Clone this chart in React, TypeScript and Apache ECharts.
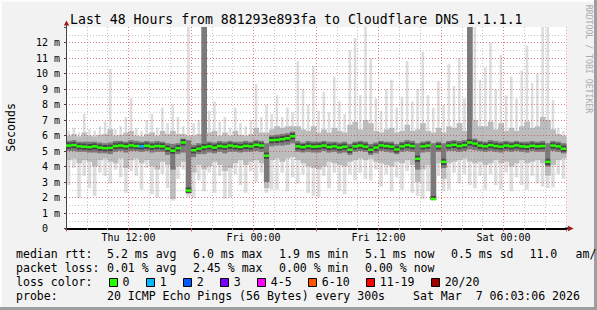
import React, { useEffect, useRef } from 'react';
import * as echarts from 'echarts';

// ---- time bins: 30-minute steps from Thu 06:00 (hours since Thu 00:00) ----
const START_HOUR = 6;
const BIN_HOURS = 0.5;

// median rtt per bin (ms)
const median = [
  5.35, 5.38, 5.30, 5.28, 5.25, 5.30, 5.22, 5.18,
  5.20, 5.32, 5.35, 5.30, 5.36, 5.32, 5.30, 5.34,
  5.28, 5.32, 5.30, 5.15, 5.02, 5.18, 5.55, 2.45,
  5.05, 5.15, 5.25, 5.30, 5.22, 5.32, 5.28, 5.35,
  5.30, 5.26, 5.33, 5.30, 5.40, 5.35, 4.70, 5.70,
  5.72, 5.76, 5.82, 5.95, 5.30, 5.25, 5.32, 5.28,
  5.30, 5.35, 5.26, 5.30, 5.22, 5.28, 5.08, 5.30,
  5.35, 5.28, 5.08, 5.22, 5.36, 5.32, 5.28, 5.10,
  5.30, 5.38, 5.32, 4.50, 5.30, 5.35, 1.90, 5.30,
  4.30, 5.35, 5.40, 5.32, 5.38, 5.55, 5.48, 5.35,
  5.30, 5.38, 5.32, 5.28, 5.35, 5.30, 5.36, 5.30,
  5.28, 5.34, 5.30, 5.32, 4.30, 5.35, 5.30, 5.15,
];

// loss class index per bin (0 = no loss, 1 = 1 lost ping ...)
const lossClass = [
  0, 0, 0, 0, 0, 0, 0, 0,
  0, 0, 0, 0, 0, 0, 1, 0,
  0, 0, 0, 0, 0, 0, 0, 0,
  0, 0, 0, 0, 0, 0, 0, 0,
  0, 0, 0, 0, 0, 0, 0, 0,
  0, 0, 0, 0, 0, 0, 0, 0,
  0, 0, 0, 0, 0, 0, 0, 0,
  0, 0, 0, 0, 0, 0, 0, 0,
  0, 0, 0, 0, 0, 0, 0, 0,
  0, 0, 0, 0, 0, 0, 0, 0,
  0, 0, 0, 0, 0, 0, 0, 0,
  0, 0, 0, 0, 0, 0, 0, 0,
];

// smoke: fastest ping
const smokeMin = [
  2.8, 3.9, 1.95, 3.4, 2.6, 2.1, 3.6, 3.4,
  2.9, 3.8, 3.3, 2.3, 3.7, 3.4, 2.5, 3.9,
  2.2, 2.0, 3.5, 2.6, 1.8, 3.2, 3.8, 2.0,
  1.95, 3.1, 2.4, 3.6, 2.3, 3.4, 1.9, 2.0,
  3.5, 2.8, 2.3, 3.7, 3.0, 3.6, 2.3, 2.5,
  2.5, 3.6, 2.4, 3.3, 2.9, 3.5, 2.3, 2.1,
  2.0, 3.4, 2.6, 3.6, 2.4, 2.2, 3.5, 3.1,
  3.6, 3.2, 3.1, 3.8, 2.7, 3.5, 2.4, 3.3,
  2.5, 3.7, 2.3, 2.1, 1.9, 2.4, 1.8, 3.4,
  2.4, 2.5, 3.6, 2.9, 3.5, 2.8, 2.6, 3.4,
  2.5, 3.5, 2.8, 2.5, 3.6, 2.4, 3.3, 2.8,
  2.5, 3.4, 2.9, 2.7, 2.6, 2.65, 3.5, 3.2,
];
// smoke: lower edge of the mid-grey band
const smokeLowMid = [
  4.4, 4.5, 4.2, 4.4, 4.3, 4.0, 4.4, 4.5,
  4.3, 4.2, 4.5, 3.9, 4.4, 4.5, 4.2, 4.4,
  4.0, 3.8, 4.3, 4.1, 1.9, 4.0, 4.3, 2.2,
  3.6, 4.1, 3.8, 4.0, 4.3, 4.1, 3.7, 3.9,
  4.2, 4.4, 4.1, 4.3, 4.4, 4.2, 2.6, 4.4,
  4.5, 4.3, 4.5, 4.6, 4.4, 4.2, 4.0, 3.9,
  3.8, 4.0, 4.3, 4.2, 4.1, 4.0, 4.3, 4.4,
  4.5, 4.4, 4.5, 4.3, 4.2, 4.1, 4.0, 4.3,
  4.2, 4.4, 4.1, 3.0, 3.8, 4.1, 1.85, 4.2,
  3.2, 4.2, 4.3, 4.4, 4.5, 4.3, 4.2, 4.3,
  4.1, 4.2, 4.4, 4.2, 4.3, 4.0, 4.2, 4.4,
  4.2, 4.3, 4.4, 4.2, 3.4, 4.1, 4.4, 4.5,
];
// smoke: lower edge of the dark core
const smokeCoreLow = [
  5.0, 5.0, 4.95, 4.95, 4.9, 4.9, 4.85, 4.85,
  4.8, 4.95, 5.0, 4.9, 5.0, 5.0, 4.95, 5.0,
  4.9, 4.95, 4.95, 4.75, 3.8, 4.8, 4.9, 2.3,
  4.6, 4.8, 4.8, 4.9, 4.85, 4.95, 4.85, 4.95,
  4.95, 4.9, 4.95, 4.95, 5.0, 4.95, 3.0, 5.3,
  5.35, 5.35, 5.4, 5.5, 4.95, 4.9, 4.95, 4.9,
  4.9, 5.0, 4.9, 4.95, 4.85, 4.9, 4.75, 4.95,
  5.0, 4.95, 4.75, 4.85, 5.0, 4.95, 4.9, 4.8,
  4.95, 5.0, 4.95, 3.8, 4.9, 4.95, 1.85, 4.95,
  3.9, 5.0, 5.0, 4.95, 5.0, 5.1, 5.05, 5.0,
  4.95, 5.0, 4.95, 4.9, 5.0, 4.95, 5.0, 4.95,
  4.9, 5.0, 4.95, 4.95, 4.0, 5.0, 4.95, 4.85,
];
// smoke: upper edge of the dark core
const smokeCoreHigh = [
  5.65, 5.7, 5.6, 5.6, 5.6, 5.6, 5.55, 5.5,
  5.55, 5.65, 5.65, 5.6, 5.7, 5.65, 5.6, 5.65,
  5.6, 5.65, 5.6, 5.5, 5.45, 5.5, 5.8, 5.7,
  5.4, 5.5, 13.0, 5.6, 5.55, 5.65, 5.6, 5.65,
  5.6, 5.6, 5.65, 5.6, 5.7, 5.65, 5.5, 6.0,
  6.05, 6.1, 6.15, 6.25, 5.65, 5.55, 5.65, 5.6,
  5.6, 5.65, 5.6, 5.6, 5.55, 5.6, 5.45, 5.6,
  5.65, 5.6, 5.45, 5.55, 5.65, 5.6, 5.6, 5.45,
  5.6, 5.7, 5.65, 5.5, 5.6, 5.65, 5.5, 5.6,
  5.5, 5.65, 5.7, 5.65, 5.7, 13.0, 5.8, 5.65,
  5.6, 5.7, 5.65, 5.6, 5.65, 5.6, 5.65, 5.6,
  5.6, 5.65, 5.6, 5.65, 5.5, 5.65, 5.6, 5.5,
];
// smoke: upper edge of the mid-grey band
const smokeHighMid = [
  6.0, 6.1, 5.95, 6.2, 6.0, 5.95, 6.05, 6.1,
  6.4, 6.0, 6.05, 6.2, 6.3, 6.0, 5.95, 6.1,
  6.2, 6.0, 6.3, 6.1, 6.3, 6.1, 6.1, 6.0,
  6.0, 6.1, 13.0, 6.2, 6.3, 6.0, 6.2, 6.0,
  6.3, 6.05, 6.0, 6.1, 6.5, 6.2, 6.2, 6.4,
  6.6, 6.5, 6.6, 6.6, 6.6, 6.4, 6.3, 6.6,
  6.2, 6.4, 6.2, 6.5, 6.3, 6.2, 6.7, 6.9,
  6.4, 7.0, 6.8, 6.3, 6.2, 6.4, 6.5, 6.2,
  6.3, 6.7, 6.3, 6.4, 6.8, 6.3, 6.2, 6.5,
  6.2, 6.6, 6.5, 6.8, 6.3, 13.0, 7.0, 6.6,
  6.6, 6.9, 6.4, 6.8, 6.3, 6.5, 6.3, 6.6,
  6.9, 6.5, 6.6, 7.2, 7.0, 6.4, 6.1, 6.0,
];
// smoke: slowest ping
const smokeMax = [
  6.3, 6.5, 6.2, 7.4, 6.4, 6.3, 6.6, 6.9,
  10.3, 6.4, 6.6, 7.2, 8.4, 6.5, 6.3, 7.0,
  7.4, 6.5, 7.8, 6.8, 8.0, 7.2, 6.6, 13.0,
  6.8, 7.0, 13.0, 7.6, 8.2, 6.9, 7.2, 6.5,
  7.8, 6.8, 6.6, 7.0, 9.3, 7.2, 8.0, 7.4,
  8.6, 7.2, 7.8, 7.5, 10.8, 9.0, 8.0, 10.5,
  7.6, 8.8, 7.5, 9.8, 8.2, 7.4, 11.5, 12.3,
  8.6, 13.0, 11.0, 8.4, 7.6, 9.0, 9.6, 7.8,
  8.5, 10.8, 8.2, 9.0, 11.4, 8.6, 7.8, 9.5,
  8.0, 10.6, 9.2, 11.0, 8.4, 13.0, 13.0, 9.6,
  10.4, 12.0, 9.0, 11.2, 8.6, 9.8, 8.4, 10.2,
  11.8, 9.4, 10.0, 13.0, 13.0, 8.3, 6.5, 6.3,
];

// axis ticks / labels
const xTickHours = [12, 24, 36, 48];
const xTickLabels = ['Thu 12:00', 'Fri 00:00', 'Fri 12:00', 'Sat 00:00'];
const yTickValues = [0, 1, 2, 3, 4, 5, 6, 7, 8, 9, 10, 11, 12];
const yTickLabels = ['0', '1 m', '2 m', '3 m', '4 m', '5 m', '6 m', '7 m', '8 m', '9 m', '10 m', '11 m', '12 m'];

// legend texts
const titleText = 'Last 48 Hours from 881293e893fa to Cloudflare DNS 1.1.1.1';
const medianStats = ['5.2 ms avg', '6.0 ms max', '1.9 ms min', '5.1 ms now', '0.5 ms sd'];
const medianExtra = ['11.0', 'am/'];
const lossStats = ['0.01 % avg', '2.45 % max', '0.00 % min', '0.00 % now'];
const lossLabels = ['0', '1', '2', '3', '4-5', '6-10', '11-19', '20/20'];
const lossColors = ['#26ff00', '#00b8ff', '#0059ff', '#7e00ff', '#ff00ff', '#ff5500', '#ff0000', '#a10000'];
const probeText = '20 ICMP Echo Pings (56 Bytes) every 300s';
const dateParts = ['Sat Mar', '7 06:03:06 2026'];

const FONT = '"DejaVu Sans Mono", monospace';
const LEG_SIZE = 11.56;
const CH = 6.96;

const LIGHT = '#dddddd';
const MID = '#bcbcbc';
const CORE = '#7a7a7a';
const INNER = '#444444';

function txt(x: number, y: number, text: string, size = LEG_SIZE, extra: any = {}) {
  return {
    type: 'text', x, y, silent: true, z: 10,
    style: { text, x: 0, y: 0, fill: '#000', fontFamily: FONT, fontSize: size, align: 'left', verticalAlign: 'middle', ...extra },
  };
}

export default function App() {
  const ref = useRef<HTMLDivElement>(null);

  useEffect(() => {
    if (!ref.current) return;
    const chart = echarts.init(ref.current, null, { renderer: 'svg', width: 597, height: 310 });

    const smokeData = median.map((m, i) => [
      START_HOUR + i * BIN_HOURS,
      smokeMin[i], smokeLowMid[i], smokeCoreLow[i], smokeCoreHigh[i], smokeHighMid[i], smokeMax[i], m,
    ]);
    const medianData = median.map((m, i) => [START_HOUR + i * BIN_HOURS, m, lossClass[i]]);

    const renderSmoke = (_p: any, api: any) => {
      const t0 = api.value(0);
      const t1 = t0 + BIN_HOURS;
      // rect between values a (low) and b (high); frac = share of the bin width, centred
      const band = (a: number, b: number, fill: string, frac = 1) => {
        const p0 = api.coord([t0, b]);
        const p1 = api.coord([t1, a]);
        const w = p1[0] - p0[0];
        const ww = frac >= 1 ? w + 0.4 : w * frac;
        return {
          type: 'rect',
          shape: { x: p0[0] + (w - Math.min(ww, w)) / 2, y: p0[1], width: ww, height: Math.max(0, p1[1] - p0[1]) },
          style: { fill },
        };
      };
      const m = api.value(7);
      const innerLo = Math.max(api.value(3), m - 0.2);
      const innerHi = Math.min(api.value(4), m + 0.2);
      return {
        type: 'group',
        children: [
          band(api.value(5), api.value(6), LIGHT, 0.5),
          band(api.value(1), api.value(2), LIGHT, 0.7),
          band(api.value(2), api.value(5), MID),
          band(api.value(3), api.value(4), CORE),
          band(innerLo, innerHi, INNER),
        ],
      };
    };

    const renderMedian = (_p: any, api: any) => {
      const t0 = api.value(0);
      const p0 = api.coord([t0, api.value(1)]);
      const p1 = api.coord([t0 + BIN_HOURS, api.value(1)]);
      return {
        type: 'rect',
        shape: { x: p0[0], y: p0[1] - 1.25, width: p1[0] - p0[0] + 0.3, height: 2.5 },
        style: { fill: lossColors[api.value(2)] },
      };
    };

    const minorGrid = { color: 'rgba(130,130,130,0.45)', type: [1, 2], width: 1 };
    const majorGrid = { color: 'rgba(255,0,0,0.33)', type: [1, 2], width: 1 };

    // legend graphics
    const g: any[] = [];
    g.push({ type: 'rect', shape: { x: 0, y: 0, width: 597, height: 2 }, style: { fill: '#fcfcfc' }, z: 1 });
    g.push({ type: 'rect', shape: { x: 0, y: 0, width: 2, height: 310 }, style: { fill: '#fcfcfc' }, z: 1 });
    g.push({ type: 'rect', shape: { x: 594, y: 0, width: 3, height: 310 }, style: { fill: '#9e9e9e' }, z: 1 });
    g.push({ type: 'rect', shape: { x: 0, y: 307, width: 597, height: 3 }, style: { fill: '#9e9e9e' }, z: 1 });

    g.push(txt(70, 19.5, titleText, 13.2));
    g.push({
      type: 'text', x: 10.5, y: 127.5, rotation: Math.PI / 2, silent: true, z: 10,
      style: { text: 'Seconds', x: 0, y: 0, fill: '#000', fontFamily: FONT, fontSize: LEG_SIZE, align: 'center', verticalAlign: 'middle' },
    });
    g.push({
      type: 'text', x: 588.5, y: 59, rotation: -Math.PI / 2, silent: true, z: 10,
      style: { text: 'RRDTOOL / TOBI OETIKER', x: 0, y: 0, fill: '#ababab', fontFamily: FONT, fontSize: 8.2, align: 'center', verticalAlign: 'middle' },
    });
    // axis arrows
    g.push({ type: 'line', shape: { x1: 66.5, y1: 24, x2: 66.5, y2: 27 }, style: { stroke: '#444', lineWidth: 1 }, z: 10 });
    g.push({ type: 'polygon', shape: { points: [[63.8, 25.6], [69.2, 25.6], [66.5, 20.4]] }, style: { fill: '#a01c1c' }, z: 10 });
    g.push({ type: 'line', shape: { x1: 565, y1: 228.5, x2: 569, y2: 228.5 }, style: { stroke: '#000', lineWidth: 2 }, z: 10 });
    g.push({ type: 'polygon', shape: { points: [[568, 225.8], [568, 231.2], [573.6, 228.5]] }, style: { fill: '#a01c1c' }, z: 10 });

    const lineY = [254.3, 268.3, 282.3, 296.3];
    const colX = [107, 193, 279, 365, 451];
    g.push(txt(16, lineY[0], 'median rtt:'));
    medianStats.forEach((s, i) => g.push(txt(colX[i], lineY[0], s)));
    g.push(txt(529.5, lineY[0], medianExtra[0]));
    g.push(txt(575.5, lineY[0], medianExtra[1]));

    g.push(txt(16, lineY[1], 'packet loss:'));
    lossStats.forEach((s, i) => g.push(txt(colX[i], lineY[1], s)));

    g.push(txt(16, lineY[2], 'loss color:'));
    let bx = 108.6;
    lossLabels.forEach((lab, i) => {
      g.push({
        type: 'rect', z: 10,
        shape: { x: Math.round(bx) + 0.5, y: 278.5, width: 8, height: 8 },
        style: { fill: lossColors[i], stroke: '#000', lineWidth: 1 },
      });
      g.push(txt(bx + 14, lineY[2], lab));
      bx += 14 + lab.length * CH + 16.1;
    });

    g.push(txt(16, lineY[3], 'probe:'));
    g.push(txt(107, lineY[3], probeText));
    g.push(txt(413, lineY[3], dateParts[0]));
    g.push(txt(413 + 9 * CH, lineY[3], dateParts[1]));

    chart.setOption({
      animation: false,
      backgroundColor: '#f2f2f2',
      grid: { left: 66, top: 27, width: 500, height: 201.5, show: true, backgroundColor: '#ffffff', borderWidth: 0 },
      xAxis: [
        {
          type: 'value', min: 6, max: 54, interval: 2, z: 3,
          axisLine: { show: false },
          axisTick: { show: true, length: 2, lineStyle: { color: '#b0b0b0' } },
          axisLabel: { show: false },
          splitLine: { show: true, showMinLine: false, showMaxLine: false, lineStyle: minorGrid },
        },
        {
          type: 'value', min: 6, max: 54, interval: 6, z: 3, position: 'bottom',
          axisLine: { show: true, onZero: false, lineStyle: { color: '#000', width: 2 } },
          axisTick: { show: true, length: 3, lineStyle: { color: 'rgba(200,0,0,0.6)' } },
          axisLabel: {
            show: true, margin: 4, color: '#000', fontFamily: FONT, fontSize: 10,
            formatter: (v: number) => {
              const k = xTickHours.indexOf(v);
              return k < 0 ? '' : xTickLabels[k];
            },
          },
          splitLine: { show: true, showMinLine: false, showMaxLine: true, lineStyle: majorGrid },
        },
      ],
      yAxis: [
        {
          type: 'value', min: 0, max: 13, interval: 0.5, z: 3,
          axisLine: { show: false },
          axisTick: { show: false },
          axisLabel: { show: false },
          splitLine: { show: true, showMinLine: false, showMaxLine: false, lineStyle: minorGrid },
        },
        {
          type: 'value', min: 0, max: 13, interval: 1, z: 3, position: 'left',
          axisLine: { show: true, onZero: false, lineStyle: { color: '#444', width: 1 } },
          axisTick: { show: true, length: 2, lineStyle: { color: '#444' } },
          axisLabel: {
            show: true, margin: 6, color: '#000', fontFamily: FONT, fontSize: 10,
            formatter: (v: number) => {
              const k = yTickValues.indexOf(v);
              if (k < 0) return '';
              return v === 0 ? '{z|' + yTickLabels[k] + '}' : yTickLabels[k];
            },
            rich: { z: { padding: [0, 12, 0, 0], fontFamily: FONT, fontSize: 10, color: '#000' } },
          },
          splitLine: { show: true, showMinLine: false, showMaxLine: false, lineStyle: majorGrid },
        },
      ],
      series: [
        {
          type: 'custom', name: 'smoke', xAxisIndex: 0, yAxisIndex: 0, z: 2,
          renderItem: renderSmoke, data: smokeData, encode: { x: 0, y: 1 }, silent: true,
        },
        {
          type: 'custom', name: 'median', xAxisIndex: 0, yAxisIndex: 0, z: 4,
          renderItem: renderMedian, data: medianData, encode: { x: 0, y: 1 }, silent: true,
        },
      ],
      graphic: g,
    });

    return () => chart.dispose();
  }, []);

  return <div ref={ref} style={{ position: 'absolute', left: 0, top: 0, width: 597, height: 310 }} />;
}
